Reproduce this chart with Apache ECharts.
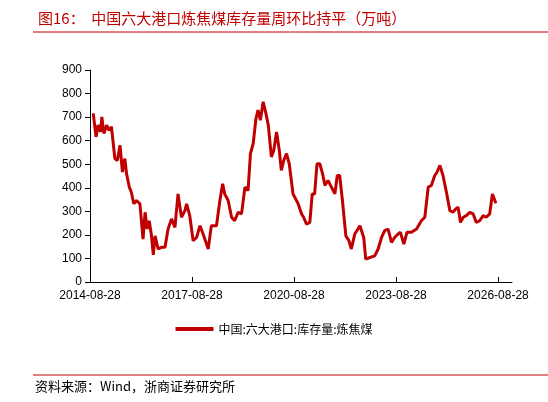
<!DOCTYPE html>
<html><head><meta charset="utf-8">
<script src="https://cdn.jsdelivr.net/npm/echarts@6/dist/echarts.min.js"></script>
<style>html,body{margin:0;padding:0;background:#fff}#c{width:548px;height:402px}</style>
</head><body><div id="c"></div>
<script>
var xTickLabels=['2014-08-28','2017-08-28','2020-08-28','2023-08-28','2026-08-28'];
var years=[2014.93,2015.01,2015.07,2015.14,2015.18,2015.24,2015.32,2015.39,2015.46,2015.56,2015.63,2015.71,2015.78,2015.85,2015.90,2015.98,2016.04,2016.11,2016.19,2016.29,2016.38,2016.44,2016.50,2016.56,2016.62,2016.68,2016.73,2016.82,2016.92,2017.02,2017.11,2017.21,2017.31,2017.40,2017.50,2017.60,2017.65,2017.74,2017.84,2017.94,2018.04,2018.13,2018.28,2018.37,2018.52,2018.62,2018.70,2018.76,2018.86,2018.96,2019.05,2019.15,2019.25,2019.35,2019.44,2019.51,2019.59,2019.67,2019.73,2019.80,2019.88,2019.96,2020.03,2020.12,2020.19,2020.27,2020.35,2020.41,2020.48,2020.56,2020.64,2020.75,2020.90,2021.00,2021.06,2021.14,2021.24,2021.31,2021.38,2021.45,2021.53,2021.61,2021.68,2021.77,2021.87,2021.97,2022.04,2022.11,2022.19,2022.29,2022.38,2022.45,2022.55,2022.70,2022.81,2022.87,2022.99,2023.13,2023.23,2023.33,2023.42,2023.52,2023.62,2023.71,2023.81,2023.88,2023.98,2024.07,2024.20,2024.35,2024.49,2024.59,2024.69,2024.78,2024.88,2024.95,2025.03,2025.12,2025.22,2025.32,2025.41,2025.49,2025.56,2025.63,2025.71,2025.80,2025.90,2026.00,2026.09,2026.19,2026.29,2026.38,2026.48,2026.56,2026.61,2026.66];
var stock=[716,616,666,637,701,630,666,644,659,524,516,580,467,524,460,403,381,332,346,332,182,296,225,260,204,115,196,140,147,147,225,268,232,374,275,303,332,282,175,189,239,204,140,239,239,346,417,374,346,275,260,296,289,403,388,545,588,694,730,687,765,716,666,531,559,637,559,474,516,545,502,374,332,289,275,246,253,374,374,502,502,460,410,431,403,374,452,452,346,196,175,140,204,239,189,97,104,111,140,189,218,225,168,189,204,211,161,211,211,225,260,275,403,410,452,467,495,452,381,303,296,310,317,253,275,282,296,289,253,260,282,275,289,374,377,334];
var pts=years.map(function(y,i){return [(y-2014.835)*1.0093, stock[i]];});
var red='#C00000';
var chart=echarts.init(document.getElementById('c'));
chart.setOption({
  animation:false,
  title:{text:'图16：  中国六大港口炼焦煤库存量周环比持平（万吨）',left:33,top:6,textStyle:{color:red,fontSize:15,fontWeight:'normal',fontFamily:'Noto Sans CJK SC'}},
  graphic:[
    {type:'line',shape:{x1:33,y1:32,x2:548,y2:32},style:{stroke:red,lineWidth:1}},
    {type:'line',shape:{x1:33,y1:375,x2:548,y2:375},style:{stroke:red,lineWidth:1}},
    {type:'text',left:35,top:380,style:{text:'资料来源：Wind，浙商证券研究所',fontSize:13,fill:'#000',fontFamily:'Noto Sans CJK SC'}}
  ],
  legend:{bottom:62,left:'center',itemWidth:38,itemHeight:4,icon:'rect',textStyle:{fontSize:12,color:'#000',fontFamily:'Noto Sans CJK SC'},data:['中国:六大港口:库存量:炼焦煤']},
  grid:{left:90,right:36,top:70,bottom:120},
  xAxis:{type:'value',min:0,max:12.41,interval:3,
    axisLine:{lineStyle:{color:'#000'}},axisTick:{inside:true,length:5,lineStyle:{color:'#000'}},splitLine:{show:false},
    axisLabel:{showMaxLabel:false,color:'#000',fontSize:12,fontFamily:'Liberation Sans',margin:8,formatter:function(v){var i=Math.round(v/3);return (Math.abs(v-i*3)<1e-6&&xTickLabels[i])?xTickLabels[i]:'';}}},
  yAxis:{type:'value',min:0,max:900,interval:100,
    axisLine:{show:true,lineStyle:{color:'#000'}},axisTick:{show:true,length:5,lineStyle:{color:'#000'}},splitLine:{show:false},
    axisLabel:{color:'#000',fontSize:12,fontFamily:'Liberation Sans'}},
  series:[{name:'中国:六大港口:库存量:炼焦煤',type:'line',data:pts,showSymbol:false,lineStyle:{color:red,width:3},itemStyle:{color:red}}]
});
</script></body></html>
